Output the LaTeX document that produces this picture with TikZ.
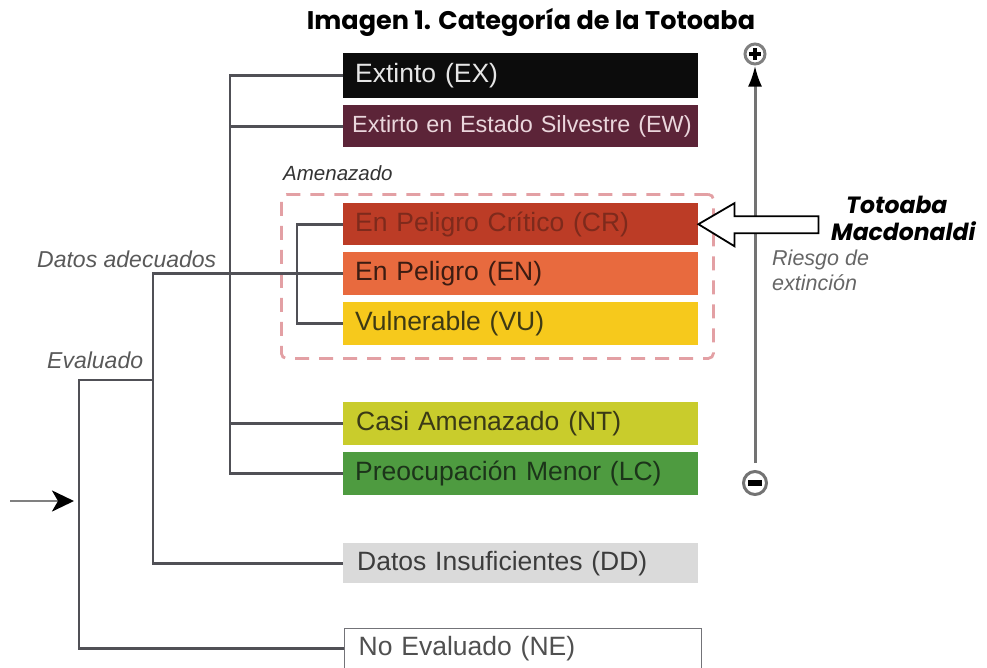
\documentclass[tikz,border=0pt]{standalone}
\usepackage{fontspec}
\setmainfont{Liberation Sans}
\newfontfamily\pop{Poppins}
\usetikzlibrary{arrows.meta}
\definecolor{cEX}{HTML}{0C0C0C}
\definecolor{cEW}{HTML}{5C2438}
\definecolor{cCR}{HTML}{BC3C26}
\definecolor{cEN}{HTML}{E86A3E}
\definecolor{cVU}{HTML}{F6C91C}
\definecolor{cNT}{HTML}{C9CC2C}
\definecolor{cLC}{HTML}{4E9B40}
\definecolor{cDD}{HTML}{DADADA}
\definecolor{tEX}{HTML}{E6E6E6}
\definecolor{tEW}{HTML}{EAD6DC}
\definecolor{tCR}{HTML}{7E2A1C}
\definecolor{tEN}{HTML}{3C1C12}
\definecolor{tVU}{HTML}{3E3A14}
\definecolor{tNT}{HTML}{3A3A16}
\definecolor{tLC}{HTML}{1C341A}
\definecolor{tDD}{HTML}{3C3C3C}
\definecolor{tNE}{HTML}{505050}
\definecolor{lineg}{HTML}{505056}
\definecolor{dashr}{HTML}{E3A0A4}
\begin{document}
\begin{tikzpicture}[x=1pt,y=-1pt,
  cat/.style={anchor=north west, minimum width=355pt, text width=345pt, inner xsep=5pt, inner ysep=0pt, align=left, font=\fontsize{26.5}{26.5}\selectfont},
  tree/.style={draw=lineg, line width=2.8pt},
  lab/.style={font=\fontsize{23}{23}\selectfont\itshape, anchor=base west, inner sep=0pt}]
\useasboundingbox (0,0) rectangle (987,667);
\begin{scope}
\clip (0,0) rectangle (987,667);
% title
\node[font=\pop\bfseries\fontsize{25.5}{25.5}\selectfont, anchor=base, inner sep=0pt] (title) at (531,29) {Imagen 1. Categoría de la Totoaba};
% category boxes
\node[cat, fill=cEX, text=tEX, minimum height=45pt] (ex) at (343,53) {\hspace*{7pt}Extinto (EX)};
\node[cat, fill=cEW, text=tEW, minimum height=42pt, font=\fontsize{23.4}{23.4}\selectfont] (ew) at (343,105) {\mbox{\hspace*{4pt}Extirto en Estado Silvestre (EW)}};
\node[cat, fill=cCR, text=tCR, minimum height=42pt] (cr) at (343,203) {\hspace*{7pt}En Peligro Crítico (CR)};
\node[cat, fill=cEN, text=tEN, minimum height=43pt] (en) at (343,252) {\hspace*{7pt}En Peligro (EN)};
\node[cat, fill=cVU, text=tVU, minimum height=43pt] (vu) at (343,302) {\hspace*{7pt}Vulnerable (VU)};
\node[cat, fill=cNT, text=tNT, minimum height=43pt] (nt) at (343,402) {\hspace*{8pt}Casi Amenazado (NT)};
\node[cat, fill=cLC, text=tLC, minimum height=43pt] (lc) at (343,452) {\hspace*{7pt}Preocupación Menor (LC)};
\node[cat, fill=cDD, text=tDD, minimum height=40pt] (dd) at (343,543) {\hspace*{9pt}Datos Insuficientes (DD)};
\node[cat, draw=lineg!80, line width=1.4pt, fill=white, text=tNE, minimum height=40pt, minimum width=357pt] (ne) at (344,628) {\hspace*{8pt}No Evaluado (NE)};
% dashed threatened group
\node[draw=dashr, line width=2.8pt, dash pattern=on 14pt off 10pt, rounded corners=5pt, minimum width=432pt, minimum height=164pt, anchor=north west] (thr) at (280,193) {};
\node[lab, font=\fontsize{20.5}{20.5}\selectfont\itshape, text=black!80] (amen) at (283,180) {Amenazado};
% tree junction columns
\coordinate (ta) at (230,0);
\coordinate (tb) at (297,0);
\coordinate (tc) at (153,0);
\coordinate (td) at (79,0);
\coordinate (evj) at (79,380);
\coordinate (evk) at (153,380);
% main trunk
\draw[tree] (ex.west) -- (ex.west -| ta) -- (lc.west -| ta) -- (lc.west);
\draw[tree] (ew.west) -- (ew.west -| ta);
\draw[tree] (nt.west) -- (nt.west -| ta);
% threatened trunk
\draw[tree] (cr.west) -- (cr.west -| tb) -- (vu.west -| tb) -- (vu.west);
% datos adecuados
\draw[tree] (en.west) -- (en.west -| tc) -- (dd.west -| tc) -- (dd.west);
% evaluado
\draw[tree] (evk) -- (evj) -- (ne.west -| td) -- (ne.west);
% input arrow
\coordinate (in0) at (10,501);
\coordinate (in1) at (74,501);
\draw[draw=gray, line width=2.8pt, -{Stealth[length=22pt, width=21pt, inset=6pt, color=black]}] (in0) -- (in1);
% labels
\node[lab, text=black!65] (datad) at (37,267) {Datos adecuados};
\node[lab, text=black!65] (eval) at (47,368) {Evaluado};
\node[lab, font=\fontsize{21.5}{21.5}\selectfont\itshape, text=black!60] (r1) at (772,265) {Riesgo de};
\node[lab, font=\fontsize{21.5}{21.5}\selectfont\itshape, text=black!60] (r2) at (772,290) {extinción};
% risk axis
\node[circle, draw=black!50, line width=3pt, minimum size=20pt, inner sep=0pt, fill=white] (plus) at (755,54) {};
\draw[line width=3.5pt] ([xshift=-6pt]plus.center) -- ([xshift=6pt]plus.center) ([yshift=-6pt]plus.center) -- ([yshift=6pt]plus.center);
\node[circle, draw=black!55, line width=3pt, minimum size=23pt, inner sep=0pt, fill=white] (minus) at (755,483) {};
\draw[line width=5.5pt] ([xshift=-7pt]minus.center) -- ([xshift=7pt]minus.center);
\coordinate (ax0) at (755,463);
\draw[draw=black!55, line width=3pt, -{Latex[length=21pt, width=14pt, color=black]}] (ax0) -- (plus.south);
% big hollow arrow
\coordinate (tip) at (cr.east);
\draw[line width=1.8pt, fill=white] (tip) -- ++(36,-21) -- ++(0,13) -- ++(84,0) -- ++(0,17) -- ++(-84,0) -- ++(0,13) -- cycle;
% species label
\node[font=\pop\bfseries\itshape\fontsize{23.5}{23.5}\selectfont, anchor=base west, inner sep=0pt] (sp1) at (846,213) {Totoaba};
\node[font=\pop\bfseries\itshape\fontsize{23.5}{23.5}\selectfont, anchor=base west, inner sep=0pt] (sp2) at (831,240) {Macdonaldi};
\end{scope}
\end{tikzpicture}
\end{document}
